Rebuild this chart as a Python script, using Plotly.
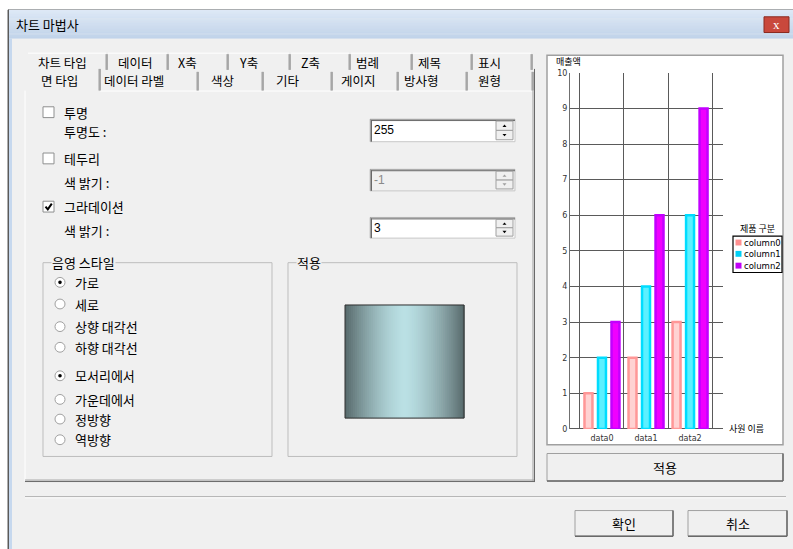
import plotly.graph_objects as go

# chart data
categories = ["data0", "data1", "data2"]
series_names = ["column0", "column1", "column2"]
column0 = [1, 2, 3]
column1 = [2, 4, 6]
column2 = [3, 6, 9]
y_ticks = list(range(0, 11))
y_title = "매출액"
x_title = "사원 이름"
legend_title = "제품 구분"

# dialog texts
dialog_title = "차트 마법사"
tabs_row1 = ["차트 타입", "데이터", "X축", "Y축", "Z축", "범례", "제목", "표시"]
tabs_row2 = ["면 타입", "데이터 라벨", "색상", "기타", "게이지", "방사형", "원형"]
check_labels = ["투명", "테두리", "그라데이션"]
check_states = [False, False, True]
sub_labels = ["투명도 :", "색 밝기 :", "색 밝기 :"]
spin_values = ["255", "-1", "3"]
spin_enabled = [True, False, True]
shade_options = ["가로", "세로", "상향 대각선", "하향 대각선", "모서리에서", "가운데에서", "정방향", "역방향"]
shade_selected = [True, False, False, False, True, False, False, False]

W, H = 793, 549
KR = "Noto Sans CJK KR"
LAT = "DejaVu Sans"

shapes = []
annotations = []


def px(x):
    return x / W


def py(y):
    return 1 - y / H


def rect(x0, y0, x1, y1, fill=None, line=None, lw=1, kind="rect"):
    shapes.append(dict(type=kind, xref="paper", yref="paper",
                       x0=px(x0), x1=px(x1), y0=py(y1), y1=py(y0),
                       fillcolor=fill or "rgba(0,0,0,0)",
                       line=dict(color=line or "rgba(0,0,0,0)", width=lw if line else 0),
                       layer="below"))


def hline(x0, x1, y, color, lw=1):
    shapes.append(dict(type="line", xref="paper", yref="paper", x0=px(x0), x1=px(x1),
                       y0=py(y), y1=py(y), line=dict(color=color, width=lw), layer="below"))


def vline(x, y0, y1, color, lw=1):
    shapes.append(dict(type="line", xref="paper", yref="paper", x0=px(x), x1=px(x),
                       y0=py(y0), y1=py(y1), line=dict(color=color, width=lw), layer="below"))


def poly(points, fill=None, line=None, lw=1):
    d = "M " + " L ".join(f"{px(x)},{py(y)}" for x, y in points) + " Z"
    shapes.append(dict(type="path", xref="paper", yref="paper", path=d,
                       fillcolor=fill or "rgba(0,0,0,0)",
                       line=dict(color=line or "rgba(0,0,0,0)", width=lw if line else 0),
                       layer="below"))


def text(x, y, s, size=13, color="#000000", anchor="left", family=KR, bg=None):
    annotations.append(dict(x=px(x), y=py(y), xref="paper", yref="paper", text=s,
                            showarrow=False, xanchor=anchor, yanchor="middle",
                            bgcolor=bg, borderpad=0,
                            font=dict(family=family, size=size, color=color)))


def mix(c1, c2, t):
    return "rgb(%d,%d,%d)" % tuple(round(a + (b - a) * t) for a, b in zip(c1, c2))


def button(x0, y0, x1, y1, label):
    rect(x0, y0, x1, y1, fill="#F0F0F0", line="#A0A0A0")
    hline(x0, x1, y1, "#696969", 1.5)
    vline(x1, y0, y1, "#696969", 1.5)
    text((x0 + x1) / 2, (y0 + y1) / 2, label, anchor="center")


# window frame and title bar
rect(8, 6, 800, 560, fill="#F0F0F0", line="#5A5A5A")
for i in range(29):
    hline(9, 800, 6.5 + i, mix((222, 233, 246), (186, 207, 233), i / 28), 1.2)
rect(8.5, 35, 12, 560, fill="#C6D8EE")
vline(8.5, 6, 560, "#5A5A5A")
text(15, 21, dialog_title)
rect(764, 13, 789, 29, fill="#C9483C", line="#8B2A20")
text(776.5, 21, "x", size=13, color="#FFFFFF", anchor="center", family="DejaVu Sans Bold")

# tab panel
rect(25, 88, 534, 485, fill="#F0F0F0")
vline(25, 88, 485, "#FFFFFF")
hline(100, 534, 88.5, "#FFFFFF")
hline(25, 534, 484, "#A0A0A0")
hline(25, 535, 485.5, "#696969")
vline(533, 88, 485, "#A0A0A0")
vline(534.5, 66, 486, "#696969")

row1_edges = [27, 107, 168, 228, 290, 350, 412, 472, 532]
row1_text_x = [37, 117, 177, 238, 300, 355, 417, 477]
for i, label in enumerate(tabs_row1):
    hline(row1_edges[i] + 1, row1_edges[i + 1] - 1, 50, "#FFFFFF")
    vline(row1_edges[i + 1], 51, 67, "#696969")
    vline(row1_edges[i + 1] - 1, 51, 67, "#A0A0A0")
    text(row1_text_x[i], 59, label, size=12.5)

row2_edges = [27, 100, 198, 263, 332, 398, 467, 533]
row2_text_x = [40, 103, 210, 275, 340, 403, 477]
for i, label in enumerate(tabs_row2):
    top = 66 if i == 0 else 69
    vline(row2_edges[i + 1], top, 88, "#696969")
    vline(row2_edges[i + 1] - 1, top, 88, "#A0A0A0")
    text(row2_text_x[i], 78, label, size=12.5)

# check boxes and spin boxes
check_y = [110, 157, 206]
sub_y = [130, 181, 230]
spin_box = [(117, 140), (168, 190), (217, 238)]
for i in range(3):
    yc = check_y[i]
    rect(43, yc - 5.5, 54, yc + 5.5, fill="#FFFFFF", line="#8E8F8F")
    if check_states[i]:
        shapes.append(dict(type="path", xref="paper", yref="paper", layer="below",
                           path=f"M {px(45.5)},{py(yc)} L {px(47.8)},{py(yc + 2.8)} L {px(51.8)},{py(yc - 3)}",
                           line=dict(color="#000000", width=2)))
    text(63, yc, check_labels[i])
    text(63, sub_y[i], sub_labels[i])
    y0, y1 = spin_box[i]
    on = spin_enabled[i]
    rect(370, y0, 515, y1, fill="#FFFFFF" if on else "#F0F0F0", line="#C8C8C8")
    hline(370, 515, y0 + 0.5, "#A0A0A0")
    vline(370.5, y0, y1, "#A0A0A0")
    hline(371, 515, y0 + 1.5, "#696969")
    vline(371.5, y0 + 1, y1, "#696969")
    ym = (y0 + y1) / 2
    rect(496, y0 + 2, 513, ym, fill="#F0F0F0", line="#A0A0A0")
    rect(496, ym, 513, y1 - 2, fill="#F0F0F0", line="#A0A0A0")
    arrow = "#000000" if on else "#A0A0A0"
    cu = (y0 + 2 + ym) / 2
    cd = (ym + y1 - 2) / 2
    poly([(502.5, cu + 1.2), (506.5, cu + 1.2), (504.5, cu - 1.2)], fill=arrow)
    poly([(502.5, cd - 1.2), (506.5, cd - 1.2), (504.5, cd + 1.2)], fill=arrow)
    text(373, ym, spin_values[i], color="#000000" if on else "#8A8A8A", size=12, family="Liberation Sans")

# group boxes
rect(43, 263, 272, 460, line="#BDBDBD")
rect(288, 263, 517, 460, line="#BDBDBD")
text(51, 263, "음영 스타일", bg="#F0F0F0")
text(296, 263, "적용", bg="#F0F0F0")

radio_y = [283, 305, 328, 349, 378, 402, 422, 443]
for label, yc, sel in zip(shade_options, radio_y, shade_selected):
    rect(55, yc - 5, 65, yc + 5, fill="#FFFFFF", line="#A0A0A0", kind="circle")
    if sel:
        rect(58.2, yc - 1.8, 61.8, yc + 1.8, fill="#000000", kind="circle")
    text(74, yc, label)

# gradient preview swatch
n = 60
gx0, gx1 = 345, 464
dark, light = (86, 104, 106), (186, 224, 228)
for i in range(n):
    a = gx0 + (gx1 - gx0) * i / n
    b = gx0 + (gx1 - gx0) * (i + 1) / n
    t = abs((a + b) / 2 - (gx0 + gx1) / 2) / ((gx1 - gx0) / 2)
    rect(a, 306, b + 0.6, 421, fill=mix(light, dark, t ** 1.5))
rect(345, 306, 464, 421, line="#2E2E2E")

# bottom area
hline(25, 786, 501, "#A0A0A0")
hline(25, 786, 502, "#FFFFFF")
button(547, 457, 783, 485, "적용")
button(575, 515, 673, 541, "확인")
button(688, 515, 787, 541, "취소")

# chart panel
rect(547, 52, 783, 448, fill="#FFFFFF", line="#A0A0A0", lw=1.5)
text(555, 58, y_title, size=9)
text(728, 432, x_title, size=9)

# legend (drawn by hand to fit the narrow panel)
legend_marks = ["#FF9090", "#00D0F5", "#C000F5"]
text(757, 228, legend_title, size=9, anchor="center")
rect(733, 236, 782, 273, fill="#FFFFFF", line="#000000", lw=1.2)
for name, c, yc in zip(series_names, legend_marks, [242.5, 254, 266]):
    rect(735.5, yc - 3, 741.5, yc + 3, fill=c)
    text(743, yc, name, size=8.5, family=LAT)

fills = ["#FFD2D2", "#5CF0FF", "#F000FF"]
edges = ["#FF9797", "#00DDFF", "#C200FF"]

fig = go.Figure()
for name, vals, f, e in zip(series_names, [column0, column1, column2], fills, edges):
    fig.add_trace(go.Bar(x=categories, y=vals, name=name, showlegend=False,
                         marker=dict(color=f, line=dict(color=e, width=2.5))))

fig.update_layout(
    width=W, height=H,
    margin=dict(l=0, r=0, t=0, b=0),
    paper_bgcolor="#FFFFFF",
    plot_bgcolor="#FFFFFF",
    barmode="group",
    bargap=0.08,
    bargroupgap=0.41,
    showlegend=False,
    shapes=shapes,
    annotations=annotations,
    xaxis=dict(domain=[px(570), px(723)], type="category", range=[-0.726, 2.748],
               tickson="boundaries", showgrid=True, gridcolor="#5A5A5A", gridwidth=1.2,
               ticks="", ticklabelstandoff=3,
               tickfont=dict(family=LAT, size=8, color="#333333"),
               fixedrange=True),
    yaxis=dict(domain=[py(432), py(70)], range=[0, 10], tickvals=y_ticks,
               showgrid=True, gridcolor="#5A5A5A", gridwidth=1,
               zeroline=True, zerolinecolor="#5A5A5A", zerolinewidth=1.2,
               showline=True, linecolor="#707070", linewidth=1, ticks="",
               tickfont=dict(family=LAT, size=8, color="#333333"), fixedrange=True),
)

fig.write_html("out.html", config={"displayModeBar": False},
               post_script="document.body.style.margin='0';")
